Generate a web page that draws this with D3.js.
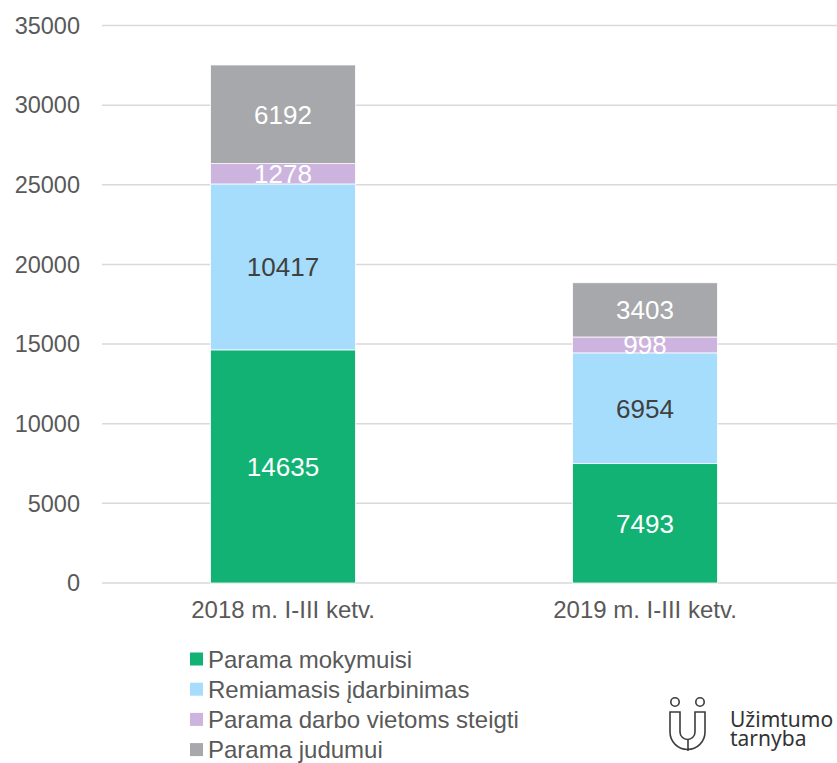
<!DOCTYPE html>
<html>
<head>
<meta charset="utf-8">
<script src="https://cdn.jsdelivr.net/npm/d3@7"></script>
<style>
  body { margin: 0; background: #fff; }
  svg { display: block; }
  svg text { font-family: "Liberation Sans", Arial, sans-serif; }
</style>
</head>
<body>
<svg width="837" height="763"></svg>
<script>
"use strict";

var categories = ["2018 m. I-III ketv.", "2019 m. I-III ketv."];
var seriesNames = ["Parama mokymuisi", "Remiamasis įdarbinimas", "Parama darbo vietoms steigti", "Parama judumui"];
var mokymuisi = [14635, 7493];
var idarbinimas = [10417, 6954];
var steigti = [1278, 998];
var judumui = [6192, 3403];
var yTicks = [0, 5000, 10000, 15000, 20000, 25000, 30000, 35000];
var logoLines = ["Užimtumo", "tarnyba"];

var colors = ["#12b274", "#a6ddfc", "#ccb4de", "#a7a8ab"];
var labelColors = ["#fff", "#404040", "#fff", "#fff"];

var svg = d3.select("svg");
var margin = {top: 25.5, left: 102, right: 11, bottom: 180};
var width = 837 - margin.left - margin.right;
var height = 763 - margin.top - margin.bottom;
var g = svg.append("g").attr("transform", "translate(" + margin.left + "," + margin.top + ")");

var table = categories.map(function(c, i) {
  return {cat: c, s0: mokymuisi[i], s1: idarbinimas[i], s2: steigti[i], s3: judumui[i]};
});
var keys = ["s0", "s1", "s2", "s3"];
var stacked = d3.stack().keys(keys)(table);

var x = d3.scaleBand().domain(categories).range([0, width]).paddingInner(0.6).paddingOuter(0.3);
var y = d3.scaleLinear().domain([0, 35000]).range([height, 0]);

// gridlines
g.append("g")
  .selectAll("line")
  .data(yTicks)
  .enter().append("line")
    .attr("x1", 0).attr("x2", width + 20)
    .attr("y1", function(d) { return y(d); })
    .attr("y2", function(d) { return y(d); })
    .attr("stroke", "#d9d9d9")
    .attr("stroke-width", 1.5);

// y labels
g.append("g")
  .selectAll("text")
  .data(yTicks)
  .enter().append("text")
    .attr("x", -22)
    .attr("y", function(d) { return y(d); })
    .attr("dy", "0.35em")
    .attr("text-anchor", "end")
    .attr("fill", "#595959")
    .style("font-size", "23.5px")
    .text(function(d) { return d; });

// bars
var layers = g.append("g")
  .selectAll("g")
  .data(stacked)
  .enter().append("g")
    .attr("fill", function(d, i) { return colors[i]; });

layers.selectAll("rect")
  .data(function(d) { return d; })
  .enter().append("rect")
    .attr("x", function(d) { return x(d.data.cat); })
    .attr("y", function(d) { return y(d[1]); })
    .attr("width", x.bandwidth())
    .attr("height", function(d) { return y(d[0]) - y(d[1]); })
    .attr("stroke", "#fff")
    .attr("stroke-width", 0.75);

// value labels
stacked.forEach(function(layer, li) {
  g.append("g")
    .selectAll("text")
    .data(layer)
    .enter().append("text")
      .attr("x", function(d) { return x(d.data.cat) + x.bandwidth() / 2; })
      .attr("y", function(d) { return (y(d[0]) + y(d[1])) / 2; })
      .attr("dy", "0.36em")
      .attr("text-anchor", "middle")
      .attr("fill", labelColors[li])
      .style("font-size", "26px")
      .text(function(d) { return d[1] - d[0]; });
});

// category labels
g.append("g")
  .selectAll("text")
  .data(categories)
  .enter().append("text")
    .attr("x", function(d) { return x(d) + x.bandwidth() / 2; })
    .attr("y", height + 35)
    .attr("text-anchor", "middle")
    .attr("fill", "#595959")
    .style("font-size", "24px")
    .text(function(d) { return d; });

// legend
var legend = svg.append("g")
  .selectAll("g")
  .data(seriesNames)
  .enter().append("g")
    .attr("transform", function(d, i) { return "translate(190," + (659 + i * 30.2) + ")"; });

legend.append("rect")
  .attr("x", 0).attr("y", -6.5)
  .attr("width", 13).attr("height", 13)
  .attr("fill", function(d, i) { return colors[i]; });

legend.append("text")
  .attr("x", 18)
  .attr("dy", "0.36em")
  .attr("fill", "#595959")
  .style("font-size", "24px")
  .text(function(d) { return d; });

// logo
var logo = svg.append("g").attr("fill", "none").attr("stroke", "#3c3c3c").attr("stroke-width", 1.6);
logo.append("circle").attr("cx", 675).attr("cy", 702).attr("r", 4.2);
logo.append("circle").attr("cx", 700).attr("cy", 702).attr("r", 4.2);
logo.append("path")
  .attr("d", "M670,712 V732 A17.5,17.5 0 0 0 705,732 V712 H695 V732 A7.5,7.5 0 0 1 680,732 V712 Z M688,740 V751");

svg.append("text")
  .attr("x", 730).attr("y", 727)
  .attr("fill", "#333")
  .style("font-family", "'Noto Sans', sans-serif")
  .style("font-size", "21px")
  .selectAll("tspan")
  .data(logoLines)
  .enter().append("tspan")
    .attr("x", 730)
    .attr("dy", function(d, i) { return i === 0 ? 0 : 19; })
    .text(function(d) { return d; });
</script>
</body>
</html>
